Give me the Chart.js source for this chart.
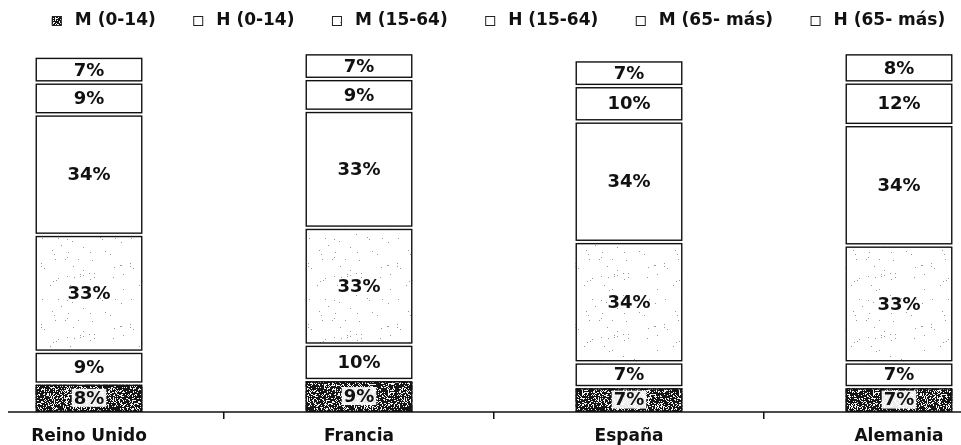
<!DOCTYPE html>
<html>
<head>
<meta charset="utf-8">
<script src="https://cdn.jsdelivr.net/npm/chart.js@4.4.1/dist/chart.umd.min.js"></script>
<style>
  html, body { margin: 0; padding: 0; background: #fff; overflow: hidden; width: 961px; height: 445px; }
  #wrap { position: absolute; left: -46px; top: 0; width: 1080px; height: 445px; }
</style>
</head>
<body>
<div id="wrap"><canvas id="c"></canvas></div>
<script>
// Population share by sex and age group (%), stacked per country
const categories = ['Reino Unido', 'Francia', 'España', 'Alemania'];
const seriesNames = ['M (0-14)', 'H (0-14)', 'M (15-64)', 'H (15-64)', 'M (65- más)', 'H (65- más)'];
const m0_14  = [8, 9, 7, 7];
const h0_14  = [9, 10, 7, 7];
const m15_64 = [33, 33, 34, 33];
const h15_64 = [34, 33, 34, 34];
const m65    = [9, 9, 10, 12];
const h65    = [7, 7, 7, 8];

const FONT = '"DejaVu Sans", Verdana, sans-serif';
const canvas = document.getElementById('c');
const mainCtx = canvas.getContext('2d');

// Speckled print-style fill built from a deterministic hash
function speckle(w, h, paper, ink, share, seed) {
  const off = document.createElement('canvas');
  off.width = w; off.height = h;
  const g = off.getContext('2d');
  g.fillStyle = paper; g.fillRect(0, 0, w, h);
  g.fillStyle = ink;
  for (let y = 0; y < h; y++) {
    for (let x = 0; x < w; x++) {
      let n = (Math.imul(x, 374761393) + Math.imul(y, 668265263) + Math.imul(seed, 1442695041)) | 0;
      n = Math.imul(n ^ (n >>> 13), 1274126177);
      n = (n ^ (n >>> 16)) >>> 0;
      if (n / 4294967296 < share) g.fillRect(x, y, 1, 1);
    }
  }
  return mainCtx.createPattern(off, 'repeat');
}

const darkFill = speckle(97, 53, '#141414', '#f4f4f4', 0.3, 7);
const lightFill = speckle(89, 61, '#ffffff', '#9a9a9a', 0.012, 3);

const seriesValues = [m0_14, h0_14, m15_64, h15_64, m65, h65];
const seriesFills = [darkFill, '#ffffff', lightFill, '#ffffff', '#ffffff', '#ffffff'];

const datasets = seriesValues.map((vals, i) => ({
  label: seriesNames[i],
  data: vals,
  backgroundColor: seriesFills[i],
  borderWidth: 0,
  categoryPercentage: 0.4,
  barPercentage: 0.99,
  stack: 'pop'
}));

// Segment outlines with thin white gaps, plus the percentage labels
const segmentPlugin = {
  id: 'segments',
  afterDatasetsDraw(chart) {
    const ctx = chart.ctx;
    const n = chart.data.datasets.length;
    ctx.save();
    chart.data.datasets.forEach((ds, di) => {
      chart.getDatasetMeta(di).data.forEach(el => {
        const p = el.getProps(['x', 'y', 'base', 'width'], true);
        const left = p.x - p.width / 2;
        const top = di === n - 1 ? p.y : p.y + 1;
        const bot = di === 0 ? p.base : p.base - 1;
        if (di < n - 1) {
          ctx.fillStyle = '#ffffff';
          ctx.fillRect(left - 1, p.y - 1, p.width + 2, 2);
        }
        ctx.strokeStyle = '#111';
        ctx.lineWidth = 1.4;
        ctx.strokeRect(left + 0.7, top + 0.7, p.width - 1.4, bot - top - 1.4);
      });
    });
    ctx.font = 'bold 18px ' + FONT;
    ctx.textAlign = 'center';
    ctx.textBaseline = 'middle';
    chart.data.datasets.forEach((ds, di) => {
      chart.getDatasetMeta(di).data.forEach((el, i) => {
        const p = el.getProps(['x', 'y', 'base'], true);
        const cy = (p.y + p.base) / 2;
        const txt = ds.data[i] + '%';
        if (di === 0) {
          const tw = ctx.measureText(txt).width;
          ctx.fillStyle = 'rgba(255,255,255,0.92)';
          ctx.fillRect(p.x - tw / 2 - 2, cy - 9, tw + 4, 18);
        }
        ctx.fillStyle = '#111';
        ctx.fillText(txt, p.x, cy + 1);
      });
    });
    ctx.restore();
  }
};

// Baseline of the category axis
const baselinePlugin = {
  id: 'baseline',
  afterDraw(chart) {
    const xs = chart.scales.x;
    const ctx = chart.ctx;
    const step = xs.getPixelForValue(1) - xs.getPixelForValue(0);
    const start = xs.getPixelForValue(0) - 0.3 * step;
    const y = chart.chartArea.bottom;
    ctx.save();
    ctx.strokeStyle = '#111';
    ctx.lineWidth = 1.5;
    ctx.beginPath();
    ctx.moveTo(start, y);
    ctx.lineTo(chart.chartArea.right, y);
    ctx.stroke();
    ctx.restore();
  }
};

// Single-row legend across the top
const legendPlugin = {
  id: 'topLegend',
  afterDraw(chart) {
    const ctx = chart.ctx;
    ctx.save();
    ctx.font = 'bold 17px ' + FONT;
    ctx.textBaseline = 'middle';
    ctx.textAlign = 'left';
    const box = 10, boxGap = 14, itemGap = 36.5;
    const names = chart.data.datasets.map(d => d.label);
    const widths = names.map(t => ctx.measureText(t).width);
    const total = widths.reduce((s, w) => s + box + boxGap + w, 0) + itemGap * (names.length - 1);
    let x = chart.width / 2 - total / 2 + 5;
    const y = 21;
    names.forEach((t, i) => {
      ctx.fillStyle = chart.data.datasets[i].backgroundColor;
      ctx.fillRect(x, y - box / 2, box, box);
      ctx.strokeStyle = '#222';
      ctx.lineWidth = 1;
      ctx.strokeRect(x + 0.5, y - box / 2 + 0.5, box - 1, box - 1);
      ctx.fillStyle = '#111';
      ctx.fillText(t, x + box + boxGap - 1, y);
      x += box + boxGap + widths[i] + itemGap;
    });
    ctx.restore();
  }
};

new Chart(canvas, {
  type: 'bar',
  data: { labels: categories, datasets },
  options: {
    responsive: true,
    maintainAspectRatio: false,
    animation: false,
    layout: { padding: { top: 40, left: 0, right: 0, bottom: 0 } },
    plugins: {
      legend: { display: false },
      tooltip: { enabled: false }
    },
    scales: {
      x: {
        stacked: true,
        afterFit(scale) { scale.height = 33; },
        border: { display: false },
        grid: {
          display: true,
          offset: true,
          drawOnChartArea: false,
          drawTicks: true,
          tickLength: 7,
          color: '#111',
          lineWidth: 1.5
        },
        ticks: {
          color: '#111',
          padding: 9.5,
          font: { family: FONT, size: 17, weight: 'bold', lineHeight: 1 }
        }
      },
      y: {
        stacked: true,
        display: false,
        min: 0,
        max: 105
      }
    }
  },
  plugins: [segmentPlugin, baselinePlugin, legendPlugin]
});
</script>
</body>
</html>
